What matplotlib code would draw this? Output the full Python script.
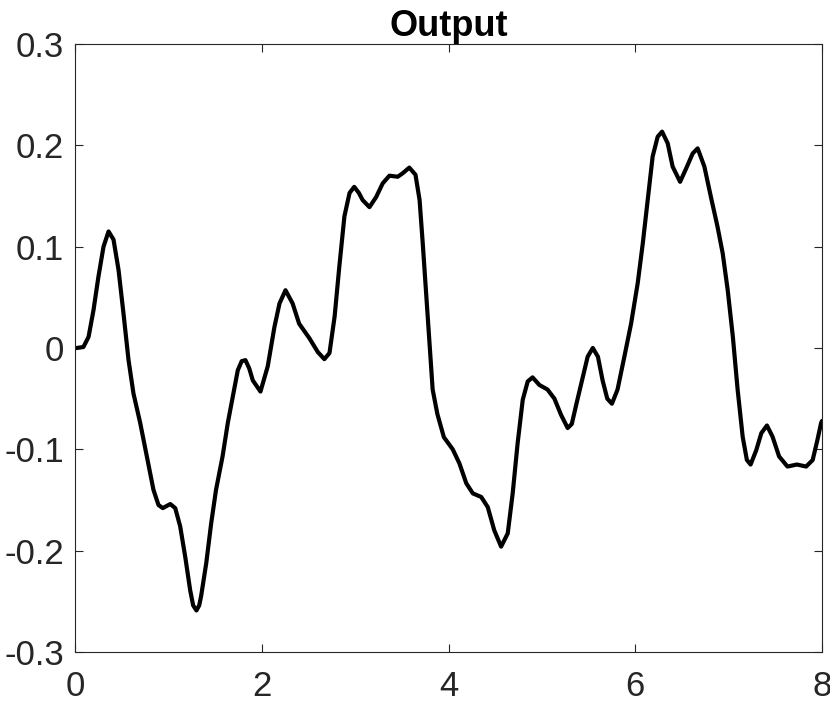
import matplotlib
matplotlib.use('Agg')
import matplotlib.pyplot as plt

# values
t = [0.00, 0.02, 0.09, 0.145, 0.198, 0.25, 0.305, 0.359, 0.412, 0.466,
     0.519, 0.573, 0.626, 0.698, 0.769, 0.84, 0.894, 0.94, 0.98, 1.02,
     1.073, 1.126, 1.18, 1.233, 1.265, 1.30, 1.33, 1.35, 1.405, 1.458,
     1.51, 1.58, 1.636, 1.69, 1.743, 1.785, 1.825, 1.865, 1.904, 1.986,
     2.064, 2.136, 2.19, 2.254, 2.33, 2.40, 2.51, 2.60, 2.67, 2.725,
     2.78, 2.83, 2.885, 2.94, 2.99, 3.04, 3.08, 3.153, 3.225, 3.295,
     3.367, 3.41, 3.456, 3.51, 3.58, 3.646, 3.69, 3.724, 3.76, 3.795,
     3.83, 3.88, 3.95, 4.045, 4.117, 4.19, 4.26, 4.35, 4.42, 4.49,
     4.563, 4.634, 4.687, 4.74, 4.795, 4.848, 4.90, 4.973, 5.06, 5.134,
     5.205, 5.276, 5.32, 5.37, 5.44, 5.49, 5.545, 5.60, 5.65, 5.70,
     5.75, 5.81, 5.883, 5.955, 6.026, 6.08, 6.133, 6.186, 6.24, 6.287,
     6.347, 6.40, 6.48, 6.544, 6.615, 6.668, 6.74, 6.81, 6.88, 6.936,
     6.99, 7.045, 7.096, 7.15, 7.195, 7.235, 7.295, 7.35, 7.41, 7.47,
     7.54, 7.63, 7.68, 7.73, 7.78, 7.83, 7.90, 7.95, 7.99, 8.00]
y = [0.000, 0.000, 0.001, 0.011, 0.0375, 0.070, 0.100, 0.115, 0.107, 0.077,
     0.034, -0.012, -0.045, -0.074, -0.107, -0.140, -0.155, -0.158, -0.156, -0.154,
     -0.158, -0.176, -0.206, -0.239, -0.254, -0.259, -0.254, -0.245, -0.2125, -0.173,
     -0.140, -0.107, -0.074, -0.048, -0.022, -0.013, -0.012, -0.020, -0.032, -0.043,
     -0.018, 0.021, 0.044, 0.057, 0.044, 0.024, 0.0096, -0.004, -0.011, -0.005,
     0.031, 0.080, 0.130, 0.153, 0.159, 0.153, 0.146, 0.139, 0.149, 0.1625,
     0.170, 0.1695, 0.169, 0.1725, 0.178, 0.171, 0.146, 0.103, 0.054, 0.005,
     -0.041, -0.065, -0.088, -0.100, -0.114, -0.1335, -0.1435, -0.147, -0.157, -0.180,
     -0.196, -0.183, -0.1435, -0.094, -0.051, -0.033, -0.029, -0.0365, -0.041, -0.050,
     -0.066, -0.079, -0.075, -0.055, -0.028, -0.0086, 0.000, -0.0086, -0.032, -0.050,
     -0.055, -0.041, -0.0086, 0.024, 0.064, 0.103, 0.146, 0.189, 0.2085, 0.2135,
     0.202, 0.179, 0.164, 0.177, 0.192, 0.197, 0.179, 0.149, 0.120, 0.0935,
     0.057, 0.011, -0.041, -0.0875, -0.1105, -0.115, -0.101, -0.084, -0.0765, -0.0875,
     -0.107, -0.117, -0.116, -0.115, -0.116, -0.117, -0.1105, -0.091, -0.074, -0.072]

xticks = [0, 2, 4, 6, 8]
yticks = [-0.3, -0.2, -0.1, 0, 0.1, 0.2, 0.3]
ylabels = ['-0.3', '-0.2', '-0.1', '0', '0.1', '0.2', '0.3']

plt.rcParams['font.family'] = ['Liberation Sans', 'DejaVu Sans']

fig = plt.figure(figsize=(8.3, 7.06), dpi=100)
ax = fig.add_axes([0.0904, 0.0765, 0.9, 0.8612])
ax.plot(t, y, color='black', lw=3, solid_joinstyle='round', solid_capstyle='round')
ax.set_xlim(0, 8)
ax.set_ylim(-0.3, 0.3)
ax.set_xticks(xticks)
ax.set_xticklabels([str(v) for v in xticks])
ax.set_yticks(yticks)
ax.set_yticklabels(ylabels)

gray = '#262626'
for s in ax.spines.values():
    s.set_color(gray)
    s.set_linewidth(0.8)
ax.tick_params(direction='in', length=6, width=0.8, color=gray, labelcolor=gray,
               labelsize=25, top=True, right=True)
ax.tick_params(axis='x', pad=13)
ax.tick_params(axis='y', pad=8)
ax.set_title('Output', fontsize=26, fontweight='bold', pad=6)

fig.savefig('out.png', dpi=100)
